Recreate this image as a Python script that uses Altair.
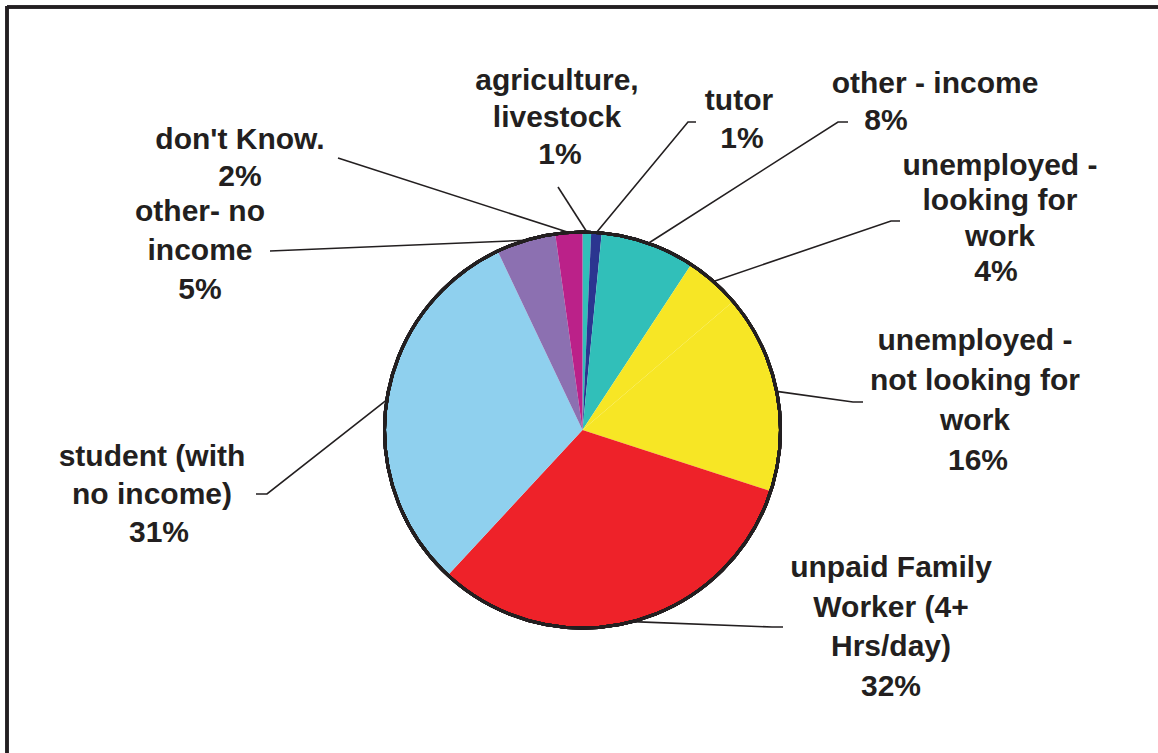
import math
import altair as alt
import pandas as pd

# ---------------- data ----------------
categories = [
    "agriculture, livestock",
    "tutor",
    "other - income",
    "unemployed - looking for work",
    "unemployed - not looking for work",
    "unpaid Family Worker (4+ Hrs/day)",
    "student (with no income)",
    "other- no income",
    "don't Know.",
]
values = [0.7, 0.85, 7.7, 4.5, 16.25, 31.9, 31.05, 4.85, 2.2]
pct_labels = ["1%", "1%", "8%", "4%", "16%", "32%", "31%", "5%", "2%"]
label_lines = [
    ["agriculture,", "livestock"],
    ["tutor"],
    ["other - income"],
    ["unemployed -", "looking for", "work"],
    ["unemployed -", "not looking for", "work"],
    ["unpaid Family", "Worker (4+", "Hrs/day)"],
    ["student (with", "no income)"],
    ["other- no", "income"],
    ["don't Know."],
]
colors = ["#31bfb9", "#2b3590", "#31bfb9", "#f7e625", "#f7e625",
          "#ee2229", "#8fd0ee", "#8c70b1", "#bb2189"]

# ---------------- layout ----------------
W, H = 1158, 753
CX, CY, R = 582.5, 430, 198
FONT_SIZE = 30
INK = "#231f20"
# label: x centre, first line y, line gap, x shift of the percent line
label_layout = [
    (557, 81, 37, 3),
    (739, 101, 38, 3),
    (935, 84, 37, -49),
    (1000, 166, 35.3, -4),
    (975, 341, 40, 3),
    (891, 568, 39.6, 0),
    (152, 457, 38, 7),
    (200, 212, 39, 0),
    (240, 140, 37, 0),
]
# leader line points after the point on the pie edge
leader_layout = [
    [(558, 187)],
    [(688, 122), (696, 122)],
    [(838, 122), (848, 122)],
    [(891, 221), (900, 221)],
    [(853, 402), (863, 402)],
    [(772, 627), (783, 627)],
    [(267, 494), (256, 494)],
    [(270, 251)],
    [(338, 158)],
]

# ---------------- tables ----------------
pie_df = pd.DataFrame({"cat": categories, "value": values,
                       "order": list(range(len(values)))})

total = sum(values)
line_rows = []
cum = 0.0
for i, v in enumerate(values):
    mid = (cum + v / 2) / total * 2 * math.pi
    cum += v
    pts = [(CX + R * math.sin(mid), CY - R * math.cos(mid))] + leader_layout[i]
    for k, (px, py) in enumerate(pts):
        line_rows.append({"cat": categories[i], "k": k, "px": px, "py": py})
lines_df = pd.DataFrame(line_rows)

text_rows = []
for i, lines in enumerate(label_lines):
    x0, y0, gap, pdx = label_layout[i]
    all_lines = lines + [pct_labels[i]]
    for j, t in enumerate(all_lines):
        dx = pdx if j == len(all_lines) - 1 else 0
        text_rows.append({"t": t, "px": x0 + dx, "py": y0 + j * gap})
text_df = pd.DataFrame(text_rows)

xs = alt.Scale(domain=[0, W])
ys = alt.Scale(domain=[0, H], reverse=True)

pie = alt.Chart(pie_df).mark_arc(radius=R, stroke=None).encode(
    x=alt.value(CX), y=alt.value(CY),
    theta=alt.Theta("value:Q", stack=True),
    color=alt.Color("cat:N", scale=alt.Scale(domain=categories, range=colors), legend=None),
    order=alt.Order("order:Q"),
)

outline = alt.Chart(pie_df).mark_arc(
    radius=R, theta=0, theta2=2 * math.pi, fillOpacity=0,
    stroke=INK, strokeWidth=3,
).encode(x=alt.value(CX), y=alt.value(CY))

leaders = alt.Chart(lines_df).mark_line(color=INK, strokeWidth=1.6).encode(
    x=alt.X("px:Q", scale=xs, axis=None),
    y=alt.Y("py:Q", scale=ys, axis=None),
    detail="cat:N",
    order="k:Q",
)

labels = alt.Chart(text_df).mark_text(
    font="Liberation Sans", fontWeight="bold", fontSize=FONT_SIZE,
    color=INK, align="center", baseline="middle",
).encode(
    x=alt.X("px:Q", scale=xs, axis=None),
    y=alt.Y("py:Q", scale=ys, axis=None),
    text="t:N",
)

frame_top = alt.Chart(pie_df).mark_rule(color=INK, strokeWidth=2.5).encode(
    x=alt.value(7), x2=alt.value(W), y=alt.value(7))
frame_left = alt.Chart(pie_df).mark_rule(color=INK, strokeWidth=2.5).encode(
    x=alt.value(7), y=alt.value(6), y2=alt.value(H))

chart = alt.layer(pie, outline, leaders, labels, frame_top, frame_left).properties(
    width=W, height=H, padding=0,
    autosize=alt.AutoSizeParams(type="none"),
    background="white",
).configure_view(stroke=None)

chart.save("out.html", embed_options={"renderer": "svg", "actions": False})
